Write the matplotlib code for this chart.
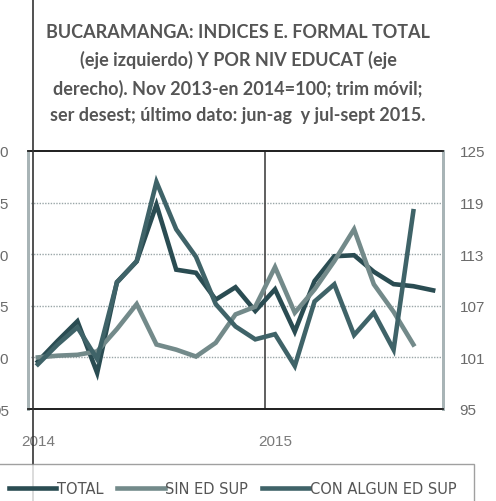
import numpy as np
import matplotlib
matplotlib.use("Agg")
import matplotlib.pyplot as plt
from matplotlib.lines import Line2D

# ---- data ----
periods_total = list(range(21))   # Jan 2014 .. Sep 2015 (moving quarter ends)
periods_edu = list(range(20))     # Jan 2014 .. Aug 2015
total = [99.6, 101.6, 103.5, 98.5, 107.3, 109.3, 114.8, 108.5, 108.2, 105.6,
         106.8, 104.5, 106.6, 102.5, 107.4, 109.8, 109.9, 108.3, 107.1, 106.9, 106.5]
sin_ed_sup = [101.0, 101.2, 101.3, 101.7, 104.3, 107.2, 102.5, 101.9, 101.1, 102.7,
              106.0, 106.9, 111.5, 106.2, 108.9, 112.2, 115.9, 109.5, 106.3, 102.5]
con_algun_ed_sup = [100.2, 102.5, 104.5, 100.8, 109.7, 112.2, 121.4, 115.9, 112.7, 107.2,
                    104.6, 103.1, 103.7, 100.0, 107.5, 109.5, 103.6, 106.2, 101.9, 118.0]
x_tick_pos = [0, 12]
x_tick_labels = ["2014", "2015"]
left_ticks = [95, 100, 105, 110, 115, 120]
right_ticks = [95, 101, 107, 113, 119, 125]
series_names = ["TOTAL", "SIN ED SUP", "CON ALGUN ED SUP"]

title = ("BUCARAMANGA: INDICES E. FORMAL TOTAL\n"
         "(eje izquierdo) Y POR NIV EDUCAT (eje\n"
         "derecho). Nov 2013-en 2014=100; trim móvil;\n"
         "ser desest; último dato: jun-ag  y jul-sept 2015.")

c_total = "#2a4c52"
c_sin = "#738a8a"
c_con = "#3f6368"
txt = "#6a6a6a"

fig = plt.figure(figsize=(4.96, 5.02), dpi=100)
fig.patch.set_facecolor("white")

W, H = 496, 502
l, r, t, b = 28, 443, 152, 410
ax = fig.add_axes([l / W, 1 - b / H, (r - l) / W, (b - t) / H])
ax2 = ax.twinx()

ax.set_xlim(-0.5, 20.5)
ax.set_ylim(95, 120)
ax2.set_ylim(95, 125)
ax.set_yticks(left_ticks)
ax2.set_yticks(right_ticks)
ax.set_xticks(x_tick_pos)
ax.set_xticklabels(x_tick_labels)

for yv in left_ticks[1:-1]:
    ax.axhline(yv, color="#9aa6a8", lw=1.0, ls=(0, (1, 1)), zorder=1)
ax.axvline(11.5, color="#444444", lw=1.2, zorder=1)

ax.plot(periods_total, total, color=c_total, lw=3.3, zorder=4, solid_joinstyle="miter")
ax2.plot(periods_edu, sin_ed_sup, color=c_sin, lw=3.3, zorder=3, solid_joinstyle="miter")
ax2.plot(periods_edu, con_algun_ed_sup, color=c_con, lw=3.3, zorder=3, solid_joinstyle="miter")

for a in (ax, ax2):
    a.spines["top"].set_color("#222222")
    a.spines["bottom"].set_color("#222222")
    a.spines["top"].set_linewidth(1.3)
    a.spines["bottom"].set_linewidth(1.3)
    a.spines["left"].set_color("#a8b4b6")
    a.spines["right"].set_color("#a8b4b6")
    a.spines["left"].set_linewidth(2.0)
    a.spines["right"].set_linewidth(2.0)
    a.tick_params(length=0)

ax.tick_params(axis="y", pad=13.5, labelsize=11, labelcolor=txt)
ax2.tick_params(axis="y", pad=12, labelsize=11, labelcolor=txt)
ax.tick_params(axis="x", pad=18, labelsize=11, labelcolor="#7a7a7a")
for lab in ax.get_yticklabels() + ax2.get_yticklabels() + ax.get_xticklabels():
    lab.set_fontfamily(["Liberation Sans", "DejaVu Sans"])

fig.text(238 / W, 1 - 24 / H, title, ha="center", va="top", fontsize=13,
         fontweight="bold", color="#555555", linespacing=1.68,
         family=["Lato", "DejaVu Sans"])

handles = [Line2D([], [], color=c_total, lw=3.3),
           Line2D([], [], color=c_sin, lw=3.3),
           Line2D([], [], color=c_con, lw=3.3)]
leg = fig.legend(handles, series_names, loc="upper left",
                 bbox_to_anchor=(-8.4 / W, 1 - 465 / H), borderaxespad=0,
                 ncol=3, frameon=True, fancybox=False, edgecolor="#888888",
                 handlelength=3.24, handletextpad=0.05, columnspacing=0.95,
                 borderpad=1.2,
                 prop={"family": ["Liberation Sans Narrow", "DejaVu Sans"], "size": 10.5})
for tx in leg.get_texts():
    tx.set_color("#555555")
leg.get_frame().set_linewidth(1.0)

# scanner edge line across the page
fig.add_artist(Line2D([33 / W, 33 / W], [0, 1], color="#333333", lw=1.2,
                      transform=fig.transFigure))

fig.savefig("out.png", dpi=100)
